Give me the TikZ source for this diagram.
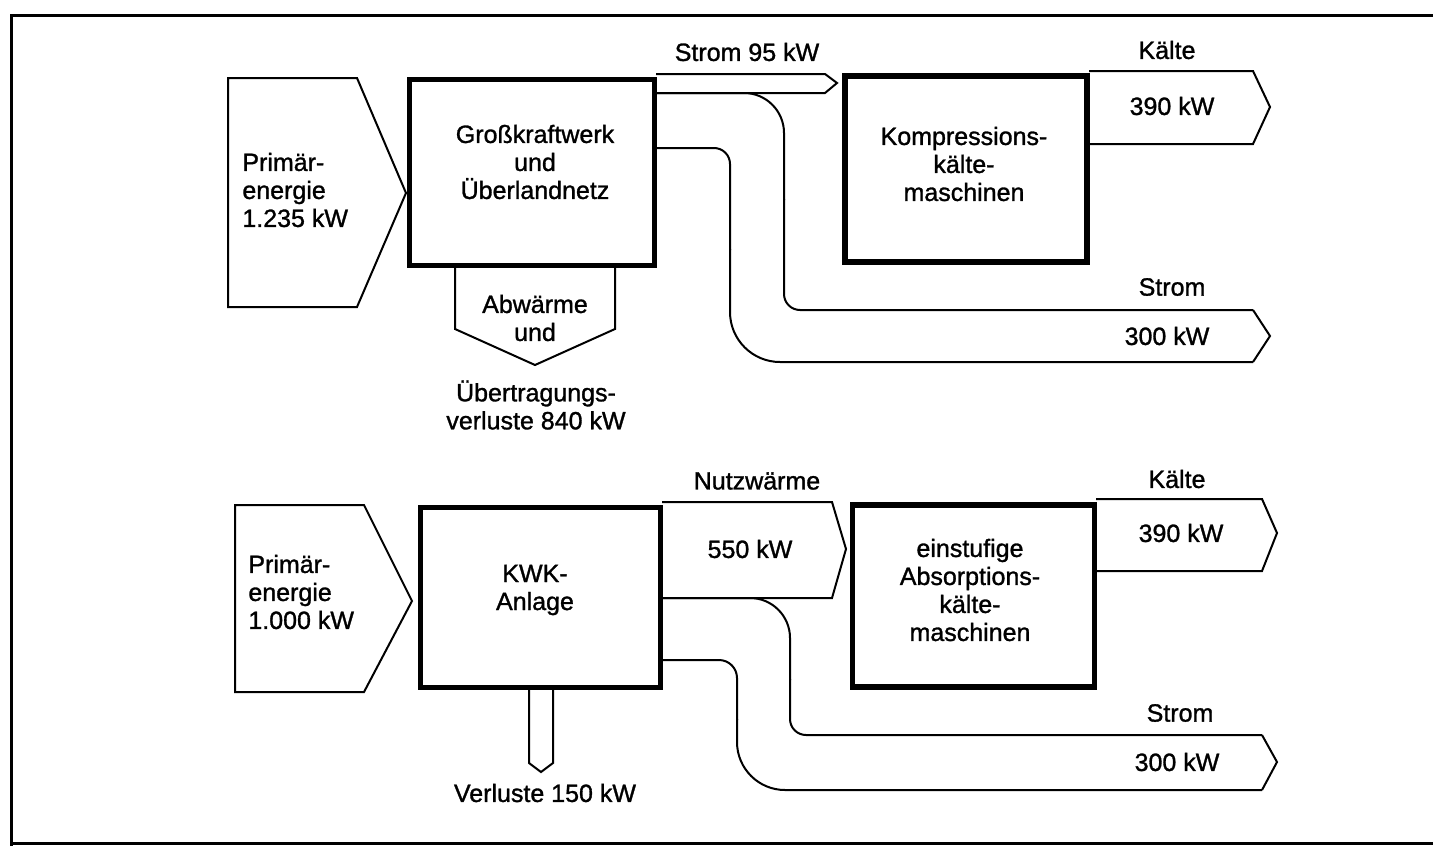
\documentclass[tikz,border=0pt]{standalone}
\usepackage{fontspec}
\setmainfont{Liberation Sans}
\newfontfamily\halbfett{Liberation Sans}[FakeBold=1.2]
\usetikzlibrary{positioning}

\begin{document}
\begin{tikzpicture}[x=0.5pt, y=-0.5pt,
    kasten/.style={line width=2.8pt},
    pfeil/.style={line width=1pt, line join=miter},
    txt/.style={font=\halbfett\fontsize{12.5pt}{14pt}\selectfont, align=center, inner sep=0pt}]
    \useasboundingbox (0,0) rectangle (1433,846);
    \draw[line width=1.5pt] (11,846) -- (11,15) -- (1445,15);
    \draw[line width=1.5pt] (11,843) -- (1445,843);

    % oben: Grosskraftwerk
    \draw[pfeil] (228,78) -- (357,78) -- (406,193) -- (357,307) -- (228,307) -- cycle;
    \draw[kasten] (409.5,79.5) rectangle (654.5,265.5);
    \draw[pfeil] (455,267) -- (455,329) -- (535,365) -- (615,329) -- (615,267);
    \draw[pfeil] (656,74) -- (825,74) -- (837,83) -- (825,93) -- (656,93);
    \draw[kasten] (845,76) rectangle (1087,262);
    \draw[pfeil] (1089,71) -- (1253,71) -- (1270,107) -- (1253,144) -- (1089,144);
    \draw[pfeil, rounded corners=20pt] (656,93) -- (784,93) -- (784,200);
    \draw[pfeil, rounded corners=8pt] (784,199) -- (784,310) -- (1253,310);
    \draw[pfeil, rounded corners=8pt] (656,148) -- (730,148) -- (730,250);
    \draw[pfeil, rounded corners=25pt] (730,249) -- (730,362) -- (1253,362);
    \draw[pfeil] (1253,310) -- (1270,336) -- (1253,362);

    \node[txt, anchor=west, align=left] (pe1) at (242,190) {Primär-\\energie\\1.235 kW};
    \node[txt] (gkw) at (535,162) {Großkraftwerk\\und\\Überlandnetz};
    \node[txt] (abw) at (535,318) {Abwärme\\und};
    \node[txt] (uev) at (536,405) {Übertragungs-\\verluste 840 kW};
    \node[txt] (s95) at (747,52) {Strom 95 kW};
    \node[txt] (kkm) at (964,164) {Kompressions-\\kälte-\\maschinen};
    \node[txt] (kaelte1) at (1167,50) {Kälte};
    \node[txt] (k390a) at (1172,106) {390 kW};
    \node[txt] (strom1) at (1172,287) {Strom};
    \node[txt] (s300a) at (1167,336) {300 kW};

    % unten: KWK-Anlage
    \draw[pfeil] (235,505) -- (364,505) -- (412,601) -- (364,692) -- (235,692) -- cycle;
    \draw[kasten] (420.5,507.5) rectangle (660.5,687.5);
    \draw[pfeil] (529,689) -- (529,763) -- (541,772) -- (553,763) -- (553,689);
    \draw[pfeil] (662,502) -- (832,502) -- (846,549) -- (832,598) -- (662,598);
    \draw[kasten] (852.5,505) rectangle (1094.5,687);
    \draw[pfeil] (1096,499) -- (1262,499) -- (1277,533) -- (1262,571) -- (1096,571);
    \draw[pfeil, rounded corners=20pt] (662,598) -- (790,598) -- (790,680);
    \draw[pfeil, rounded corners=8pt] (790,679) -- (790,735) -- (1262,735);
    \draw[pfeil, rounded corners=9pt] (662,660) -- (737,660) -- (737,720);
    \draw[pfeil, rounded corners=24pt] (737,719) -- (737,790) -- (1262,790);
    \draw[pfeil] (1262,735) -- (1277,762) -- (1262,790);

    \node[txt, anchor=west, align=left] (pe2) at (248,592) {Primär-\\energie\\1.000 kW};
    \node[txt] (kwk) at (535,590) {KWK-\\Anlage};
    \node[txt] (verl) at (545,793) {Verluste 150 kW};
    \node[txt] (nutz) at (757,481) {Nutzwärme};
    \node[txt] (w550) at (750,549) {550 kW};
    \node[txt] (akm) at (970,590) {einstufige\\Absorptions-\\kälte-\\maschinen};
    \node[txt] (kaelte2) at (1177,479) {Kälte};
    \node[txt] (k390b) at (1181,533) {390 kW};
    \node[txt] (strom2) at (1180,713) {Strom};
    \node[txt] (s300b) at (1177,762) {300 kW};
\end{tikzpicture}
\end{document}
